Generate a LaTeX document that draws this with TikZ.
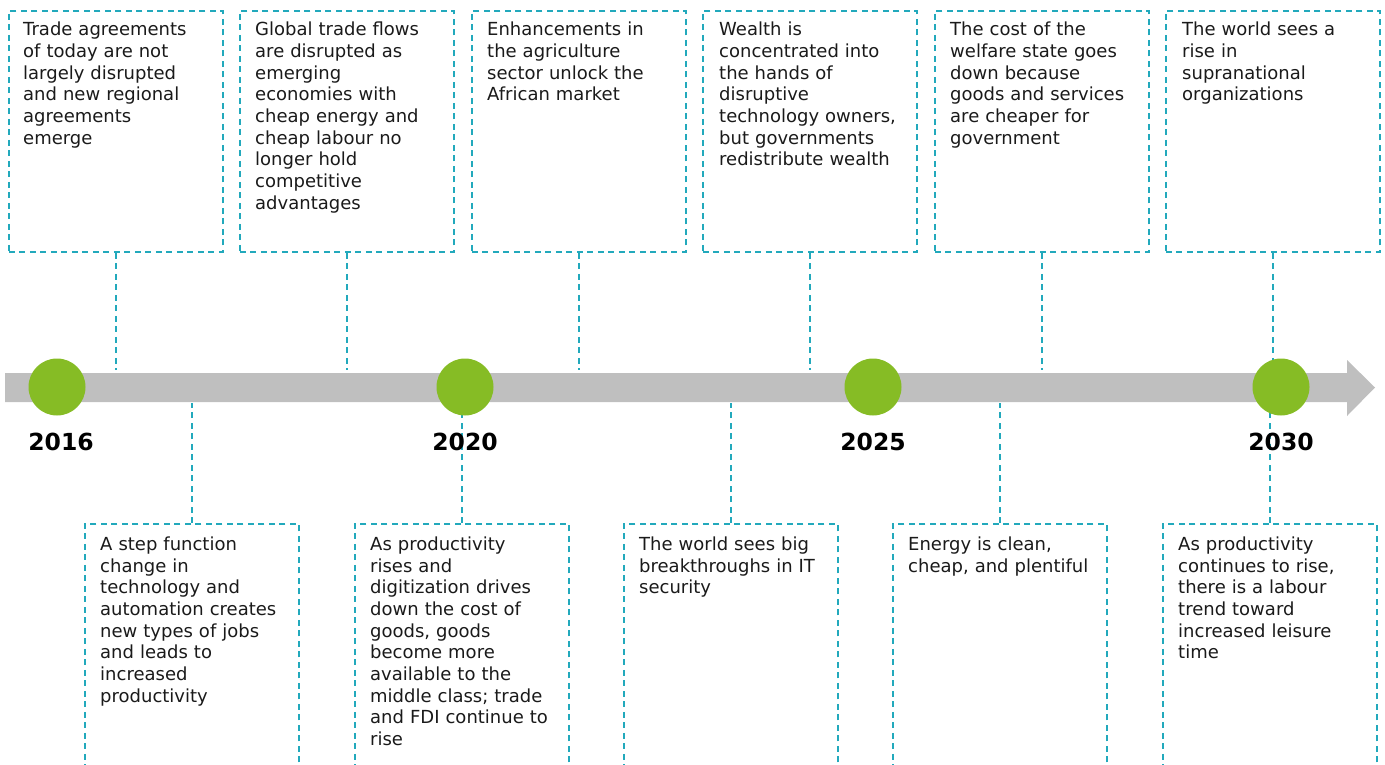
\documentclass[tikz,border=0pt]{standalone}
\usepackage{fontspec}
\setmainfont{DejaVu Sans}
\definecolor{dteal}{HTML}{22A9BC}
\definecolor{dgreen}{HTML}{86BC25}
\definecolor{dgray}{HTML}{BFBFBF}
\definecolor{txtc}{HTML}{1A1A1A}
\begin{document}
\begin{tikzpicture}[x=1pt,y=-1pt,
  box/.style={draw=dteal, dash pattern=on 6pt off 4.5pt, line width=1.8pt, minimum width=214pt, inner sep=0, anchor=north west},
  topbox/.style={box, minimum height=241pt},
  botbox/.style={box, minimum height=245pt},
  txt/.style={anchor=north west, align=left, text width=205pt, inner sep=0, text=txtc, font=\fontsize{18}{21.7}\selectfont},
  conn/.style={draw=dteal, dash pattern=on 6pt off 4.5pt, line width=2pt},
  dot/.style={circle, fill=dgreen, minimum size=57pt, inner sep=0},
  year/.style={anchor=base, inner sep=0, font=\fontsize{23.5}{28}\selectfont\bfseries, text=black}]
\useasboundingbox (0,0) rectangle (1385,765);
\coordinate (bartop) at (0,370);
\coordinate (barbot) at (0,403);
% top boxes
\node[topbox] (b1) at (8,10) {};
\node[topbox] (b2) at (239,10) {};
\node[topbox] (b3) at (471,10) {};
\node[topbox] (b4) at (702,10) {};
\node[topbox] (b5) at (934,10) {};
\node[topbox] (b6) at (1165,10) {};
\node[txt] (t1) at (23,20.3) {\strut Trade agreements\\of today are not\\largely disrupted\\and new regional\\agreements\\emerge};
\node[txt] (t2) at (255,20.3) {\strut Global trade flows\\are disrupted as\\emerging\\economies with\\cheap energy and\\cheap labour no\\longer hold\\competitive\\advantages};
\node[txt] (t3) at (487,20.3) {\strut Enhancements in\\the agriculture\\sector unlock the\\African market};
\node[txt] (t4) at (719,20.3) {\strut Wealth is\\concentrated into\\the hands of\\disruptive\\technology owners,\\but governments\\redistribute wealth};
\node[txt] (t5) at (950,20.3) {\strut The cost of the\\welfare state goes\\down because\\goods and services\\are cheaper for\\government};
\node[txt] (t6) at (1182,20.3) {\strut The world sees a\\rise in\\supranational\\organizations};
% bottom boxes
\node[botbox] (d1) at (84,523) {};
\node[botbox] (d2) at (354,523) {};
\node[botbox] (d3) at (623,523) {};
\node[botbox] (d4) at (892,523) {};
\node[botbox] (d5) at (1162,523) {};
\node[txt] (s1) at (100,535) {\strut A step function\\change in\\technology and\\automation creates\\new types of jobs\\and leads to\\increased\\productivity};
\node[txt] (s2) at (370,535) {\strut As productivity\\rises and\\digitization drives\\down the cost of\\goods, goods\\become more\\available to the\\middle class; trade\\and FDI continue to\\rise};
\node[txt] (s3) at (639,535) {\strut The world sees big\\breakthroughs in IT\\security};
\node[txt] (s4) at (908,535) {\strut Energy is clean,\\cheap, and plentiful};
\node[txt] (s5) at (1178,535) {\strut As productivity\\continues to rise,\\there is a labour\\trend toward\\increased leisure\\time};
% connectors
\foreach \b in {b1,b2,b3,b4,b5,b6} \draw[conn] (\b.south) -- (\b.south |- bartop);
\foreach \b in {d1,d2,d3,d4,d5} \draw[conn] (\b.north) -- (\b.north |- barbot);
% timeline bar
\fill[dgray] (5,373) -- (1347,373) -- (1347,360) -- (1375,387.5) -- (1347,416) -- (1347,402) -- (5,402) -- cycle;
\node[dot] (c1) at (57,387) {};
\node[dot] (c2) at (465,387) {};
\node[dot] (c3) at (873,387) {};
\node[dot] (c4) at (1281,387) {};
\node[year] (y1) at (61,450) {2016};
\node[year] (y2) at (465,450) {2020};
\node[year] (y3) at (873,450) {2025};
\node[year] (y4) at (1281,450) {2030};
\end{tikzpicture}
\end{document}
